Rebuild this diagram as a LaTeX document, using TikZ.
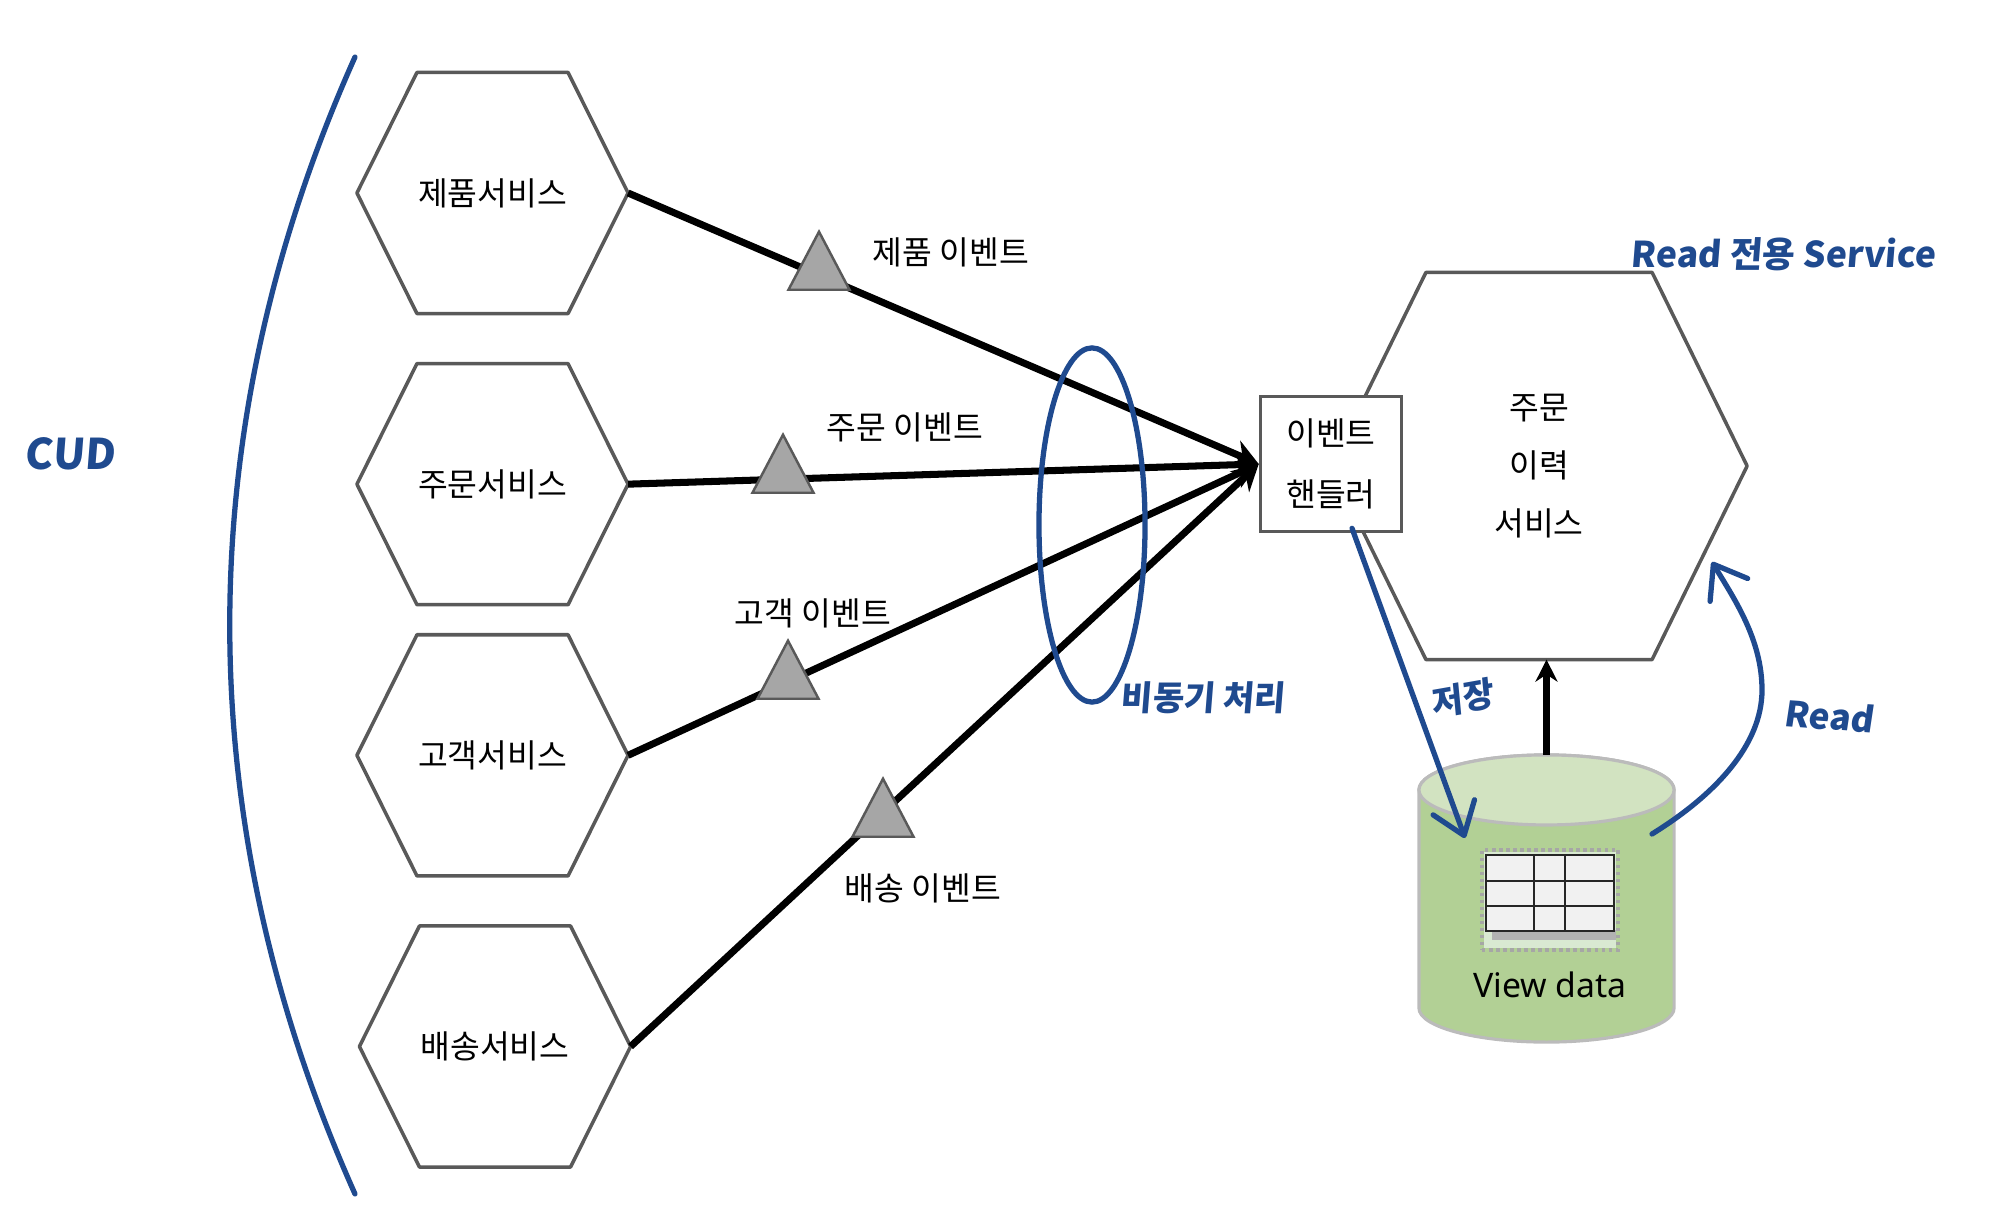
\documentclass[tikz,border=0pt]{standalone}
\usepackage{xcolor}
\usepackage{fontspec}
\setmainfont{Noto Sans CJK KR}
\newfontfamily\viewfont{Noto Sans}
\newfontfamily\penfont[FakeSlant=0.08]{Noto Sans CJK KR}
\usetikzlibrary{arrows.meta,positioning,shapes.geometric}
\definecolor{penBlue}{HTML}{1F4A8F}
\definecolor{hexLine}{HTML}{595959}
\definecolor{triGray}{HTML}{A6A6A6}
\definecolor{dbBody}{HTML}{B2D095}
\definecolor{dbTop}{HTML}{D2E3C1}
\definecolor{dbLine}{HTML}{BBBBBB}
\definecolor{cellGray}{HTML}{F1F1F1}
\definecolor{shadowGray}{HTML}{B2B2B2}
\definecolor{frameGreen}{HTML}{D9E9D2}
\tikzset{
  hexbox/.style={
    rectangle,
    inner sep=0pt,
    outer sep=0pt,
    align=center,
    font=\fontsize{9.2}{16.6}\selectfont,
    minimum width=2.71cm,
    minimum height=2.41cm
  },
  hexedge/.style={draw=hexLine, line width=1pt, line join=round},
  handlerbox/.style={
    rectangle,
    draw=hexLine,
    line width=1pt,
    fill=white,
    align=center,
    inner sep=0pt,
    font=\fontsize{9.2}{17.3}\selectfont,
    minimum width=1.41cm,
    minimum height=1.35cm
  },
  eventtri/.style={
    isosceles triangle,
    isosceles triangle stretches,
    shape border rotate=90,
    anchor=apex,
    draw=hexLine,
    fill=triGray,
    line width=0.7pt,
    inner sep=0pt,
    minimum width=0.61cm,
    minimum height=0.58cm
  },
  eventlabel/.style={font=\fontsize{9.2}{11}\selectfont, inner sep=0pt},
  eventarrow/.style={-{Stealth[length=2.6mm, width=2.8mm]}, line width=2pt, draw=black},
  penline/.style={draw=penBlue, line width=1.5pt, line cap=round},
  penarrow/.style={penline, -{Straight Barb[round, length=3mm, width=4.4mm]}},
  penlabel/.style={text=penBlue, inner sep=0pt, font=\penfont\bfseries\fontsize{9.7}{11}\selectfont},
  dbedge/.style={draw=dbLine, line width=0.9pt},
  tablegrid/.style={draw=black!85, line width=0.45pt}
}

\begin{document}
\begin{tikzpicture}[x=0.01cm, y=-0.01cm]
  \useasboundingbox (0,0) rectangle (1994,1222);

  % services on the left
  \node[hexbox] (prodsvc) at (492.5,193) {제품서비스};
  \node[hexbox, below=0.5cm of prodsvc] (ordersvc) {주문서비스};
  \node[hexbox, below=0.3cm of ordersvc] (custsvc) {고객서비스};
  \node[hexbox, below=0.5cm of custsvc, xshift=0.025cm] (shipsvc) {배송서비스};
  \node[hexbox, minimum width=4.16cm, minimum height=3.87cm, yshift=0.01cm] (orderhist) at (1539,467) {주문\\이력\\서비스};
  \foreach \n/\c in {prodsvc/0.6, ordersvc/0.6, custsvc/0.6, shipsvc/0.6, orderhist/0.95} {
    \draw[hexedge] (\n.west) -- ([xshift=\c cm]\n.north west) -- ([xshift=-\c cm]\n.north east)
      -- (\n.east) -- ([xshift=-\c cm]\n.south east) -- ([xshift=\c cm]\n.south west) -- cycle;
  }
  \node[handlerbox] (handler) at (1331,464) {\raisebox{-0.04cm}{이벤트}\\\raisebox{-0.04cm}{핸들러}};

  % events
  \draw[eventarrow] (prodsvc.east) -- (handler.west);
  \draw[eventarrow] (ordersvc.east) -- (handler.west);
  \draw[eventarrow] (custsvc.east) -- (handler.west);
  \draw[eventarrow] (shipsvc.east) -- (handler.west);
  \node[eventtri] (prodtri) at (819,228.5) {};
  \node[eventtri] (ordertri) at (783,431.5) {};
  \node[eventtri] (custtri) at (788,637.5) {};
  \node[eventtri] (shiptri) at (883,775.5) {};
  \node[eventlabel] (prodevt) at (951,252) {제품 이벤트};
  \node[eventlabel] (orderevt) at (905,427) {주문 이벤트};
  \node[eventlabel] (custevt) at (813,613) {고객 이벤트};
  \node[eventlabel] (shipevt) at (923,888) {배송 이벤트};

  % view store
  \node[rectangle, inner sep=0pt, outer sep=0pt, minimum width=2.55cm, minimum height=2.87cm] (viewdb) at (1546.5,898.5) {};
  \draw[dbedge, fill=dbBody] ([yshift=-0.35cm]viewdb.north west) -- ([yshift=0.34cm]viewdb.south west)
    arc[x radius=1.275cm, y radius=0.34cm, start angle=180, end angle=360]
    -- ([yshift=-0.35cm]viewdb.north east)
    arc[x radius=1.275cm, y radius=0.35cm, start angle=0, end angle=180] -- cycle;
  \draw[dbedge, fill=dbTop] ([yshift=-0.35cm]viewdb.north) ellipse[x radius=1.275cm, y radius=0.35cm];
  \node[draw=none, fill=frameGreen, minimum width=1.32cm, minimum height=0.96cm, inner sep=0pt] (viewglow) at (1550,900) {};
  \node[rectangle, draw=triGray, densely dotted, line width=1pt, minimum width=1.36cm, minimum height=1cm, inner sep=0pt] (viewframe) at (1550,900) {};
  \node[fill=shadowGray, minimum width=1.24cm, minimum height=0.1cm, inner sep=0pt] (viewshadow) at (1554,935) {};
  \node[rectangle, draw=black!85, fill=cellGray, line width=0.7pt, minimum width=1.28cm, minimum height=0.76cm, inner sep=0pt] (viewtable) at (1550,893) {};
  \foreach \x in {1534,1565} {
    \draw[tablegrid] (\x,855) -- (\x,931);
  }
  \foreach \y in {881,906} {
    \draw[tablegrid, line width=0.7pt] (1486,\y) -- (1614,\y);
  }
  \node[font=\viewfont\fontsize{9.6}{11}\selectfont, inner sep=0pt] (viewlabel) at (1550,985) {View data};
  \draw[-{Stealth[length=2.2mm, width=2.2mm]}, line width=2pt] (viewdb.north) -- (viewdb.north |- orderhist.south);

  % pen notes
  \coordinate (arcleft) at (355,57);
  \coordinate (arcright) at (355,1194);
  \draw[penline] (arcleft) .. controls (188,430) and (188,820) .. (arcright);
  \node[draw=penBlue, line width=1.5pt, ellipse, inner sep=0pt, minimum width=1.06cm, minimum height=3.54cm] (asyncring) at (1092,525) {};
  \coordinate (savetip) at (1465,838);
  \coordinate (readstart) at (1652,834);
  \coordinate (readbend) at (1762,690);
  \coordinate (readtip) at (1712,562);
  \draw[penarrow] ([xshift=0.21cm,yshift=0.05cm]handler.south) -- (savetip);
  \draw[penarrow] (readstart) .. controls (1715,795) and (1762,745) .. (readbend)
    .. controls (1762,640) and (1735,600) .. (readtip);
  \node[penlabel, font=\penfont\bfseries\fontsize{12}{14}\selectfont] (cudnote) at (70,454) {CUD};
  \node[penlabel, font=\penfont\bfseries\fontsize{10.1}{12}\selectfont] (readonly) at (1783,254) {Read 전용 Service};
  \node[penlabel] (asyncnote) at (1203,698) {비동기 처리};
  \node[penlabel, rotate=10] (savenote) at (1462,698) {저장};
  \node[penlabel, font=\penfont\bfseries\fontsize{10}{12}\selectfont, rotate=-4] (readnote) at (1829,716) {Read};
\end{tikzpicture}
\end{document}
